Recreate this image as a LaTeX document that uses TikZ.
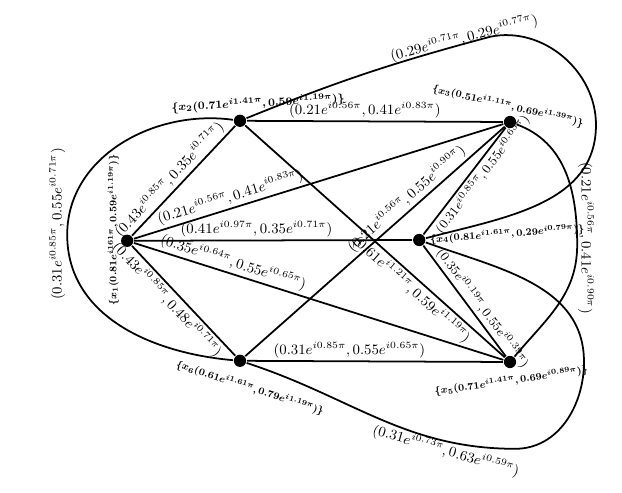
\documentclass[tikz,border=0pt]{standalone}
\usepackage{amsmath}
\usepackage{amssymb}
\usepackage{tikz}

\newcommand{\fv}[4]{$(#1e^{i#2\pi},#3e^{i#4\pi})$}
\newcommand{\nv}[5]{$\{x_{#1}(#2e^{i#3\pi},#4e^{i#5\pi})\}$}

\tikzset{
  vx/.style={circle, fill, inner sep=0pt, minimum size=2.7mm},
  xl/.style={font=\footnotesize\boldmath, inner sep=1pt, scale=.78},
  up/.style={sloped, above, inner sep=1.5pt, font=\small},
  dn/.style={sloped, below, inner sep=1.5pt, font=\small},
  ups/.style={up, font=\fontsize{8.3}{10}\selectfont},
  dns/.style={dn, font=\fontsize{8.3}{10}\selectfont},
  cvl/.style={font=\small},
}

\begin{document}
\begin{tikzpicture}
  [scale=.88, line width=1.1pt]
  \useasboundingbox (0, 0) rectangle (15.55, 12.3);
  \node[vx] (x1) at (3.18, 6.28) {};
  \node[vx] (x2) at (6.00, 9.28) {};
  \node[vx] (x3) at (12.75, 9.25) {};
  \node[vx] (x4) at (10.48, 6.30) {};
  \node[vx] (x5) at (12.75, 3.25) {};
  \node[vx] (x6) at (6.00, 3.28) {};

  \node[xl, rotate=90] (l1) at (2.83, 6.55) {\nv{1}{0.81}{161}{0.59}{1.19}};
  \node[xl, scale=1.12, rotate=3] (l2) at (6.45, 9.72) {\nv{2}{0.71}{1.41}{0.59}{1.19}};
  \node[xl, rotate=-13] (l3) at (12.7, 9.65) {\nv{3}{0.51}{1.11}{0.69}{1.39}};
  \node[xl, rotate=4] (l4) at (12.68, 6.45) {\nv{4}{0.81}{1.61}{0.29}{0.79}};
  \node[xl, rotate=8] (l5) at (12.78, 2.78) {\nv{5}{0.71}{1.41}{0.69}{0.89}};
  \node[xl, rotate=-18] (l6) at (6.25, 2.6) {\nv{6}{0.61}{1.61}{0.79}{1.19}};

  \foreach \from/\to/\p/\s/\lab in {
    x1/x2/.44/up/{\fv{0.43}{0.85}{0.35}{0.71}},
    x1/x3/.27/up/{\fv{0.21}{0.56}{0.41}{0.83}},
    x1/x4/.44/up/{\fv{0.41}{0.97}{0.35}{0.71}},
    x1/x5/.26/up/{\fv{0.35}{0.64}{0.55}{0.65}},
    x1/x6/.42/dn/{\fv{0.43}{0.85}{0.48}{0.71}},
    x2/x3/.46/up/{\fv{0.21}{0.56}{0.41}{0.83}},
    x2/x5/.67/dn/{\fv{0.61}{1.21}{0.59}{1.19}},
    x6/x3/.65/up/{\fv{0.21}{0.56}{0.55}{0.90}},
    x4/x3/.62/dns/{\fv{0.31}{0.85}{0.55}{0.65}},
    x4/x5/.62/ups/{\fv{0.35}{0.19}{0.55}{0.39}},
    x6/x5/.40/up/{\fv{0.31}{0.85}{0.55}{0.65}}}
  \draw (\from) -- node[\s, pos=\p] (e\from\to) {\lab} (\to);

  % bends of the curved edges
  \coordinate (lw) at (1.68, 6.43);
  \coordinate (tp) at (12.25, 11.38);
  \coordinate (tr) at (14.9, 9.18);
  \coordinate (rr) at (14.43, 6.18);
  \coordinate (br) at (14.6, 3.25);
  \coordinate (bb) at (12.88, 1.08);

  \draw (x2) to[out=172, in=90] (lw) to[out=-90, in=175] (x6);
  \draw (x2) to[out=22, in=195] (tp) to[out=12, in=90] (tr) to[out=-90, in=15] (x4);
  \draw (x3) to[out=-20, in=90] (rr) to[out=-90, in=50] (x5);
  \draw (x4) to[out=-20, in=90] (br) to[out=-90, in=0] (bb) to[out=180, in=-18] (x6);

  \node[cvl, rotate=90] (cl) at (1.43, 6.7) {\fv{0.31}{0.85}{0.55}{0.71}};
  \node[cvl, rotate=14] (ct) at (11.6, 11.35) {\fv{0.29}{0.71}{0.29}{0.77}};
  \node[cvl, rotate=-90] (cr) at (14.65, 6.35) {\fv{0.21}{0.56}{0.41}{0.90}};
  \node[cvl, rotate=-16] (cb) at (11.15, 1.03) {\fv{0.31}{0.73}{0.63}{0.59}};
\end{tikzpicture}
\end{document}
